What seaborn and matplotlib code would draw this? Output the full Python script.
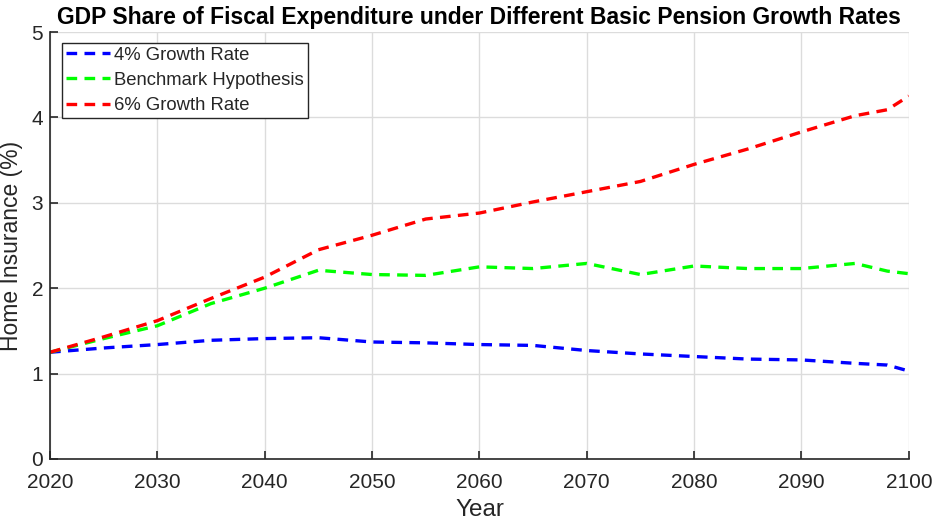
import matplotlib
matplotlib.use("Agg")
import matplotlib.pyplot as plt
import seaborn as sns
import pandas as pd

years = [2020, 2025, 2030, 2035, 2040, 2045, 2050, 2055, 2060, 2065, 2070,
         2075, 2080, 2085, 2090, 2095, 2098, 2100]
growth4 = [1.25, 1.30, 1.34, 1.39, 1.41, 1.42, 1.37, 1.36, 1.34, 1.33, 1.27,
           1.23, 1.20, 1.17, 1.16, 1.12, 1.10, 1.03]
benchmark = [1.25, 1.41, 1.56, 1.82, 2.00, 2.21, 2.16, 2.15, 2.25, 2.23, 2.29,
             2.16, 2.26, 2.23, 2.23, 2.29, 2.20, 2.17]
growth6 = [1.25, 1.43, 1.62, 1.88, 2.13, 2.45, 2.62, 2.81, 2.88, 3.01, 3.13,
           3.25, 3.45, 3.63, 3.83, 4.02, 4.09, 4.25]

series_names = ["4% Growth Rate", "Benchmark Hypothesis", "6% Growth Rate"]
colors = ["#0000ff", "#00ff00", "#ff0000"]

df = pd.concat([
    pd.DataFrame({"Year": years, "Value": v, "Series": n})
    for v, n in zip([growth4, benchmark, growth6], series_names)
])

sns.set_theme(style="white")
plt.rcParams['font.family'] = ['Liberation Sans', 'DejaVu Sans']

fig = plt.figure(figsize=(9.35, 5.23), dpi=100)
ax = fig.add_axes([0.0535, 0.1224, 0.9185, 0.8164])

dash = (0, (3.2, 2.2))
sns.lineplot(data=df, x="Year", y="Value", hue="Series", hue_order=series_names,
             palette=colors, ax=ax, linewidth=2.4, legend=True)
for line in ax.lines:
    line.set_linestyle(dash)

ax.set_xlim(2020, 2100)
ax.set_ylim(0, 5)
ax.set_xticks(range(2020, 2101, 10))
ax.set_yticks(range(0, 6))
ax.grid(True, color="#dcdcdc", linewidth=1.0)
ax.set_axisbelow(True)
for s in ["top", "right"]:
    ax.spines[s].set_visible(False)
for s in ["left", "bottom"]:
    ax.spines[s].set_color("#262626")
    ax.spines[s].set_linewidth(1.2)
ax.tick_params(axis="both", direction="in", length=6, width=1.2, colors="#262626",
               labelsize=15, labelcolor="#262626", left=True, bottom=True)
ax.tick_params(axis="x", pad=10)
ax.tick_params(axis="y", pad=5)

ax.set_xlabel("Year", fontsize=17.5, color="#262626")
ax.set_ylabel("Home Insurance (%)", fontsize=16.5, color="#262626")
ax.xaxis.set_label_coords(0.5, -0.093)
ax.yaxis.set_label_coords(-0.032, 0.5)
ax.set_title("GDP Share of Fiscal Expenditure under Different Basic Pension Growth Rates",
             fontsize=16.5, fontweight="bold", color="black", pad=6)

handles, labels = ax.get_legend_handles_labels()
for h in handles:
    h.set_linestyle(dash)
    h.set_linewidth(2.4)
leg = ax.legend(handles, labels, loc="upper left", bbox_to_anchor=(0.014, 0.974),
                fontsize=13.3, frameon=True, fancybox=False, framealpha=1,
                edgecolor="#262626", handlelength=2.4, handletextpad=0.22,
                borderpad=0.2, labelspacing=0.44, borderaxespad=0)
leg.get_frame().set_linewidth(1.0)

fig.savefig("out.png", dpi=100)
